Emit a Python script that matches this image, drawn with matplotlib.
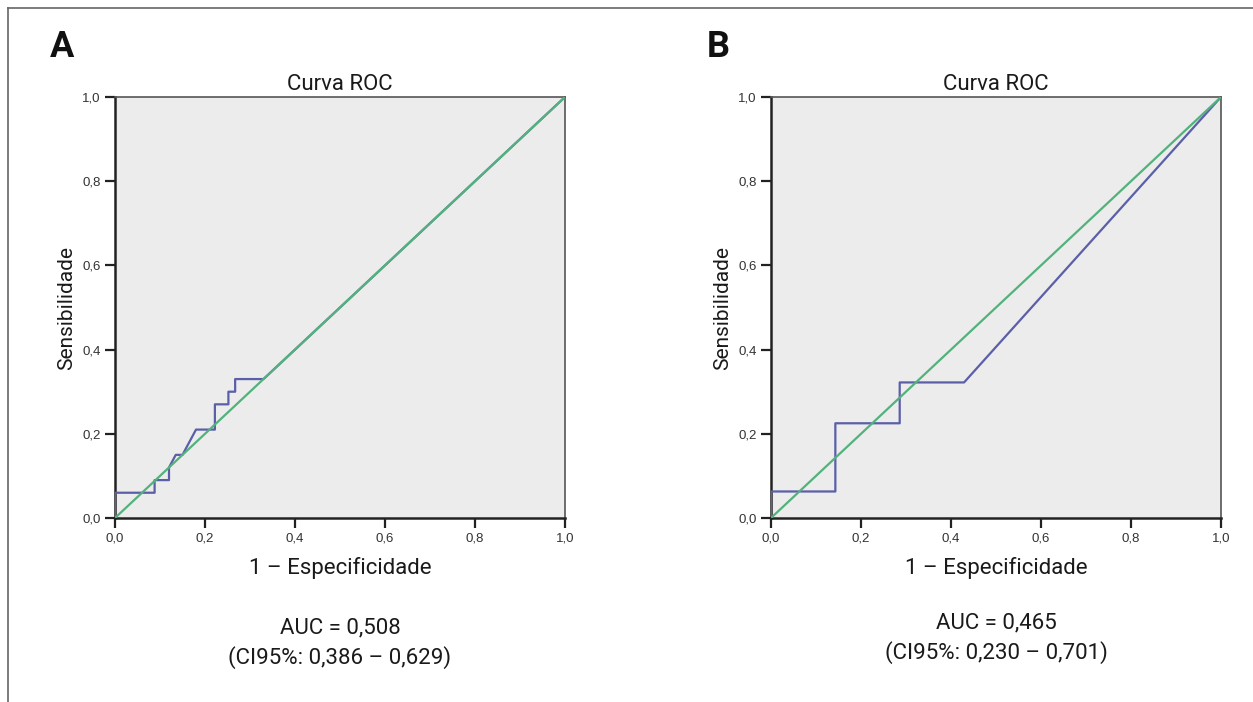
import matplotlib.pyplot as plt
from matplotlib.lines import Line2D

# ROC curve points (1 - specificity, sensitivity)
fpr_a = [0.0, 0.0, 0.088, 0.088, 0.12, 0.12, 0.135, 0.15, 0.18, 0.222, 0.222, 0.252, 0.252, 0.267, 0.267, 0.33, 1.0]
tpr_a = [0.0, 0.06, 0.06, 0.09, 0.09, 0.12, 0.15, 0.15, 0.21, 0.21, 0.27, 0.27, 0.30, 0.30, 0.33, 0.33, 1.0]

fpr_b = [0.0, 0.0, 0.143, 0.143, 0.286, 0.286, 0.429, 1.0]
tpr_b = [0.0, 0.063, 0.063, 0.225, 0.225, 0.322, 0.322, 1.0]

panels = ['A', 'B']
auc_text = ['AUC = 0,508\n(CI95%: 0,386 \u2013 0,629)',
            'AUC = 0,465\n(CI95%: 0,230 \u2013 0,701)']
ticks = [0.0, 0.2, 0.4, 0.6, 0.8, 1.0]
tick_labels = ['0,0', '0,2', '0,4', '0,6', '0,8', '1,0']

narrow = ['Roboto', 'DejaVu Sans']
plt.rcParams['font.family'] = ['Liberation Sans', 'DejaVu Sans']

W, H = 1253, 702
fig = plt.figure(figsize=(W / 100, H / 100), dpi=100)

# frame lines (top and left only)
fig.add_artist(Line2D([8 / W, 8 / W], [0, 1 - 8 / H], color='#666666', lw=1.2))
fig.add_artist(Line2D([8 / W, 1], [1 - 8 / H, 1 - 8 / H], color='#666666', lw=1.2))

lefts = [115, 771]
data = [(fpr_a, tpr_a), (fpr_b, tpr_b)]
auc_y = [617, 612]
label_x = [62, 718]

for i in range(2):
    left = lefts[i]
    ax = fig.add_axes([left / W, 1 - 518 / H, 450 / W, 421 / H])
    ax.set_facecolor('#ececec')
    fx, ty = data[i]
    ax.plot(fx, ty, color='#5a5fa8', lw=1.6, zorder=3)
    ax.plot([0, 1], [0, 1], color='#52b27c', lw=1.6, zorder=4)
    ax.set_xlim(0, 1)
    ax.set_ylim(0, 1)
    ax.set_xticks(ticks)
    ax.set_xticklabels(tick_labels)
    ax.set_yticks(ticks)
    ax.set_yticklabels(tick_labels)
    ax.tick_params(labelsize=9.5, length=7, width=1.6, color='#222222', labelcolor='#333333')
    for sp in ax.spines.values():
        sp.set_color('#555555')
        sp.set_linewidth(1.2)
    ax.spines['left'].set_color('#222222')
    ax.spines['bottom'].set_color('#222222')
    ax.spines['left'].set_linewidth(1.8)
    ax.spines['bottom'].set_linewidth(1.8)
    ax.set_title('Curva ROC', family=narrow, fontsize=16, pad=5, color='#1a1a1a')
    ax.set_xlabel('1 \u2013 Especificidade', family=narrow, fontsize=16, labelpad=9, color='#1a1a1a')
    ax.set_ylabel('Sensibilidade', family=narrow, fontsize=15, labelpad=4, color='#1a1a1a')

    cx = (left + 225) / W
    fig.text(cx, 1 - auc_y[i] / H, auc_text[i], family=narrow, fontsize=16,
             ha='center', va='top', linespacing=1.45, color='#1a1a1a')
    fig.text(label_x[i] / W, 1 - 47 / H, panels[i], family=narrow, fontsize=26,
             fontweight='bold', ha='center', va='center', color='#111111')

fig.savefig('out.png', dpi=100)
